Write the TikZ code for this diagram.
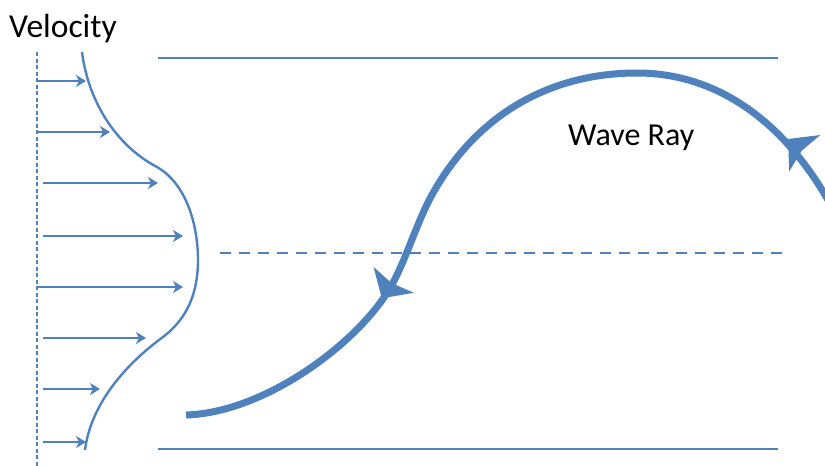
\documentclass[tikz,border=0pt]{standalone}
\usepackage{fontspec}
\setmainfont{Carlito}
\usetikzlibrary{arrows.meta}
\definecolor{rayblue}{RGB}{79,129,189}
\begin{document}
\begin{tikzpicture}[x=1pt,y=-1pt,
  thinline/.style={draw=rayblue,line width=2.4pt},
  varrow/.style={draw=rayblue,line width=2.2pt,-{Stealth[length=10pt,width=12pt,inset=3pt]}},
  ray/.style={draw=rayblue,line width=7pt},
  raytip/.style={fill=rayblue},
  lbl/.style={text=black,inner sep=0pt,anchor=base west}]
\useasboundingbox (0,0) rectangle (825,466);
% labels
\node[lbl,font=\fontsize{33.5}{40}\selectfont] (vel) at (9,37) {Velocity};
\node[lbl,font=\fontsize{32}{38}\selectfont] (wr) at (568,145) {Wave Ray};
% channel lines
\draw[thinline] (158,58) -- (778,58);
\draw[thinline] (158,449) -- (778,449);
\draw[thinline,dash pattern=on 11pt off 8pt] (220,253) -- (785,253);
% axis
\draw[draw=rayblue,line width=2.2pt,dash pattern=on 4pt off 2.5pt] (37,52) -- (37,466);
% velocity arrows
\draw[varrow] (37,81) -- (86,81);
\draw[varrow] (37,132) -- (110,132);
\draw[varrow] (43,183) -- (158,183);
\draw[varrow] (43,236) -- (183,236);
\draw[varrow] (37,287) -- (183,287);
\draw[varrow] (43,338) -- (146,338);
\draw[varrow] (43,389) -- (100,389);
\draw[varrow] (43,442) -- (86,442);
% velocity profile
\draw[thinline] (82,52) .. controls (88,100) and (115,145) .. (157,167)
  .. controls (188,185) and (198,228) .. (198,260)
  .. controls (198,292) and (188,318) .. (163,337)
  .. controls (118,370) and (90,410) .. (85,450);
% wave ray
\draw[ray] (828,200) .. controls (785,125) and (720,73) .. (637,73)
  .. controls (555,73) and (480,110) .. (433,193)
  .. controls (415,225) and (405,265) .. (387,293)
  .. controls (350,350) and (260,413) .. (186,415);
% arrowheads on the ray
\fill[raytip,shift={(391,284)},rotate=-122.7] (17pt,0pt) -- (-5pt,24pt) -- (-1pt,0pt) -- (-5pt,-24pt) -- cycle;
\fill[raytip,shift={(801,150)},rotate=139.5] (17pt,0pt) -- (-5pt,24pt) -- (-1pt,0pt) -- (-5pt,-24pt) -- cycle;
\end{tikzpicture}
\end{document}
